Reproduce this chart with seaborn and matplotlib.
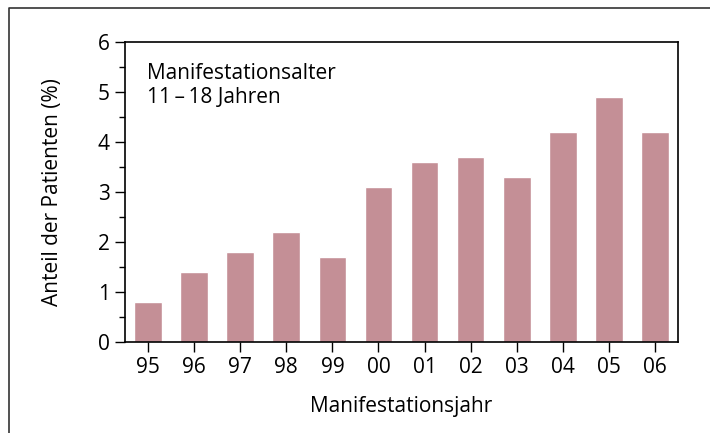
import matplotlib
matplotlib.use("Agg")
import matplotlib.pyplot as plt
import seaborn as sns
import pandas as pd
from matplotlib.ticker import MultipleLocator
from matplotlib.lines import Line2D

years = ["95", "96", "97", "98", "99", "00", "01", "02", "03", "04", "05", "06"]
values = [0.8, 1.4, 1.8, 2.2, 1.7, 3.1, 3.6, 3.7, 3.3, 4.2, 4.9, 4.2]
df = pd.DataFrame({"Jahr": years, "Anteil": values})

sns.set_theme(style="ticks")
plt.rcParams["font.family"] = ["Open Sans", "DejaVu Sans"]
plt.rcParams["text.color"] = "black"
plt.rcParams["axes.labelcolor"] = "black"
plt.rcParams["xtick.color"] = "black"
plt.rcParams["ytick.color"] = "black"

fs = 15
fig = plt.figure(figsize=(7.1, 4.33), dpi=100)
ax = fig.add_axes([125/710, 1-342/433, (678-125)/710, (342-42)/433])
sns.barplot(data=df, x="Jahr", y="Anteil", color="#C48F96", saturation=1,
            width=0.6, ax=ax)
ax.set_xlim(-0.5, 11.5)
ax.set_ylim(0, 6)
ax.yaxis.set_major_locator(MultipleLocator(1))
ax.yaxis.set_minor_locator(MultipleLocator(0.5))
for s in ax.spines.values():
    s.set_visible(True)
    s.set_linewidth(1.2)
    s.set_color("black")
ax.tick_params(axis="both", which="major", direction="out", length=7, width=1,
               labelsize=fs, pad=4)
ax.tick_params(axis="y", which="minor", direction="out", length=4, width=1)
ax.set_xlabel("Manifestationsjahr", fontsize=fs, labelpad=13)
ax.set_ylabel("Anteil der Patienten (%)", fontsize=fs, labelpad=25)
ax.text(0.04, 0.93, "Manifestationsalter\n11\u2009\u2013\u200918 Jahren",
        transform=ax.transAxes, fontsize=fs, va="top", ha="left",
        linespacing=1.2)

# outer frame (left and top edges)
fig.add_artist(Line2D([9/710, 9/710, 1.0], [0.0, 1-7.5/433, 1-7.5/433],
                      transform=fig.transFigure, color="#333333", lw=1.2))

fig.savefig("out.png", dpi=100)
